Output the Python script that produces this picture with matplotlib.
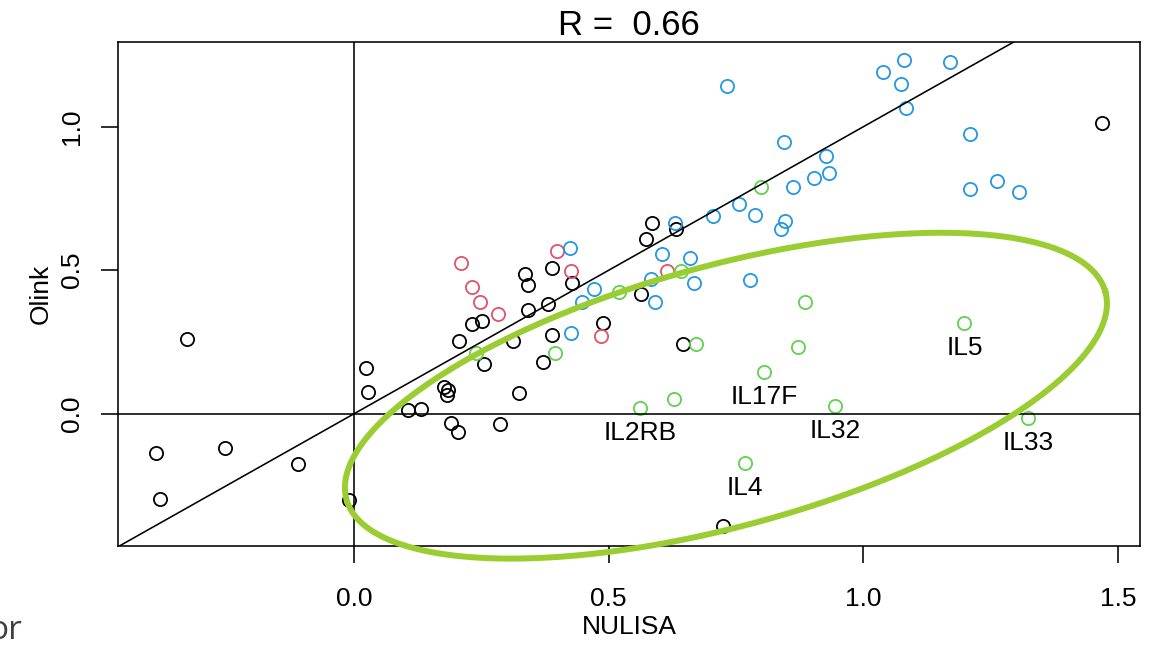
import numpy as np
import matplotlib
matplotlib.use("Agg")
import matplotlib.pyplot as plt

plt.rcParams["font.family"] = ["Liberation Sans", "DejaVu Sans"]

# R default palette colours
BLACK = "black"
RED = "#DF536B"
GREEN = "#61D04F"
BLUE = "#2297E6"

# NULISA (x) vs Olink (y) values
black_x = [-0.327, -0.388, -0.380, -0.254, -0.110, -0.009, 0.023, 0.027, 0.106, 0.131,
           0.176, 0.185, 0.182, 0.191, 0.205, 0.287, 0.323, 0.255, 0.206, 0.313,
           0.371, 0.231, 0.252, 0.342, 0.380, 0.335, 0.341, 0.388, 0.388, 0.428,
           0.488, 0.563, 0.573, 0.584, 0.632, 0.645, 0.724, 1.469]
black_y = [0.262, -0.137, -0.298, -0.120, -0.174, -0.300, 0.159, 0.077, 0.014, 0.018,
           0.092, 0.082, 0.067, -0.032, -0.065, -0.036, 0.071, 0.173, 0.252, 0.255,
           0.181, 0.312, 0.324, 0.361, 0.384, 0.486, 0.448, 0.506, 0.276, 0.456,
           0.317, 0.416, 0.607, 0.665, 0.642, 0.243, -0.391, 1.013]

red_x = [0.210, 0.231, 0.247, 0.283, 0.399, 0.425, 0.485, 0.615]
red_y = [0.526, 0.440, 0.391, 0.347, 0.566, 0.498, 0.270, 0.497]

blue_x = [0.423, 0.471, 0.447, 0.425, 0.591, 0.583, 0.605, 0.631, 0.659, 0.667,
          0.705, 0.755, 0.778, 0.732, 0.843, 0.927, 0.932, 0.903, 0.862, 0.787,
          0.846, 0.839, 1.039, 1.080, 1.073, 1.083, 1.170, 1.210, 1.209, 1.263, 1.306]
blue_y = [0.578, 0.436, 0.388, 0.283, 0.388, 0.469, 0.558, 0.665, 0.541, 0.454,
          0.688, 0.730, 0.465, 1.142, 0.945, 0.898, 0.837, 0.820, 0.791, 0.693,
          0.672, 0.645, 1.189, 1.231, 1.150, 1.065, 1.224, 0.976, 0.782, 0.809, 0.771]

green_x = [0.240, 0.395, 0.520, 0.642, 0.672, 0.629, 0.798, 0.886, 0.872]
green_y = [0.212, 0.210, 0.425, 0.497, 0.243, 0.052, 0.790, 0.391, 0.232]

# labelled green proteins
label_names = ["IL17F", "IL2RB", "IL32", "IL4", "IL5", "IL33"]
label_x = [0.805, 0.562, 0.944, 0.767, 1.198, 1.323]
label_y = [0.145, 0.021, 0.028, -0.171, 0.317, -0.014]

r_value = 0.66

# hand-drawn highlight ellipse: centre and two half-axis vectors (data units)
ell_center = (0.730, 0.063)
ell_u = (0.7448, 0.3613)
ell_v = (-0.0675, 0.4375)

fig = plt.figure(figsize=(11.67, 6.45), dpi=100)
ax = fig.add_axes([118 / 1167, 1 - 546 / 645, (1140 - 118) / 1167, (546 - 42) / 645])

ax.set_xlim(-0.4632, 1.5427)
ax.set_ylim(-0.4605, 1.2948)

mk = dict(linestyle="none", marker="o", markersize=9.5, markerfacecolor="none",
          markeredgewidth=1.3)
ax.plot(black_x, black_y, markeredgecolor=BLACK, **mk)
ax.plot(red_x, red_y, markeredgecolor=RED, **mk)
ax.plot(blue_x, blue_y, markeredgecolor=BLUE, **mk)
ax.plot(green_x, green_y, markeredgecolor=GREEN, **mk)
ax.plot(label_x, label_y, markeredgecolor=GREEN, **mk)

for name, x, y in zip(label_names, label_x, label_y):
    ax.annotate(name, (x, y), xytext=(0, -25), textcoords="offset pixels",
                ha="center", va="center", fontsize=19)

# reference lines
ax.axline((0, 0), slope=1, color="black", lw=1.15)
ax.axvline(0, color="black", lw=1.15)
ax.axhline(0, color="black", lw=1.15)

# ellipse drawn over the plot
t = np.linspace(0, 2 * np.pi, 400)
ex = ell_center[0] + ell_u[0] * np.cos(t) + ell_v[0] * np.sin(t)
ey = ell_center[1] + ell_u[1] * np.cos(t) + ell_v[1] * np.sin(t)
ax.plot(ex, ey, color="#9ACD32", lw=4.3, clip_on=False, zorder=5)

ax.set_xticks([0.0, 0.5, 1.0, 1.5])
ax.set_yticks([0.0, 0.5, 1.0])
ax.set_xticklabels(["0.0", "0.5", "1.0", "1.5"])
ax.set_yticklabels(["0.0", "0.5", "1.0"])
ax.tick_params(axis="both", length=12.5, width=1.15, labelsize=19)
ax.tick_params(axis="x", pad=17)
ax.tick_params(axis="y", pad=12)
for lab in ax.get_yticklabels():
    lab.set_rotation(90)
    lab.set_va("center")

for sp in ax.spines.values():
    sp.set_linewidth(1.15)

ax.set_xlabel("NULISA", fontsize=19, labelpad=3)
ax.set_ylabel("Olink", fontsize=19, labelpad=5)
ax.set_title(f"R =  {r_value}", fontsize=25, pad=4)

# fragment of surrounding slide text, cut at the left edge
fig.text(22 / 1167, 6 / 645, "or", fontsize=24, color="#3f3f3f", ha="right",
         va="baseline", family=["Open Sans", "DejaVu Sans"])

fig.savefig("out.png", dpi=100)
